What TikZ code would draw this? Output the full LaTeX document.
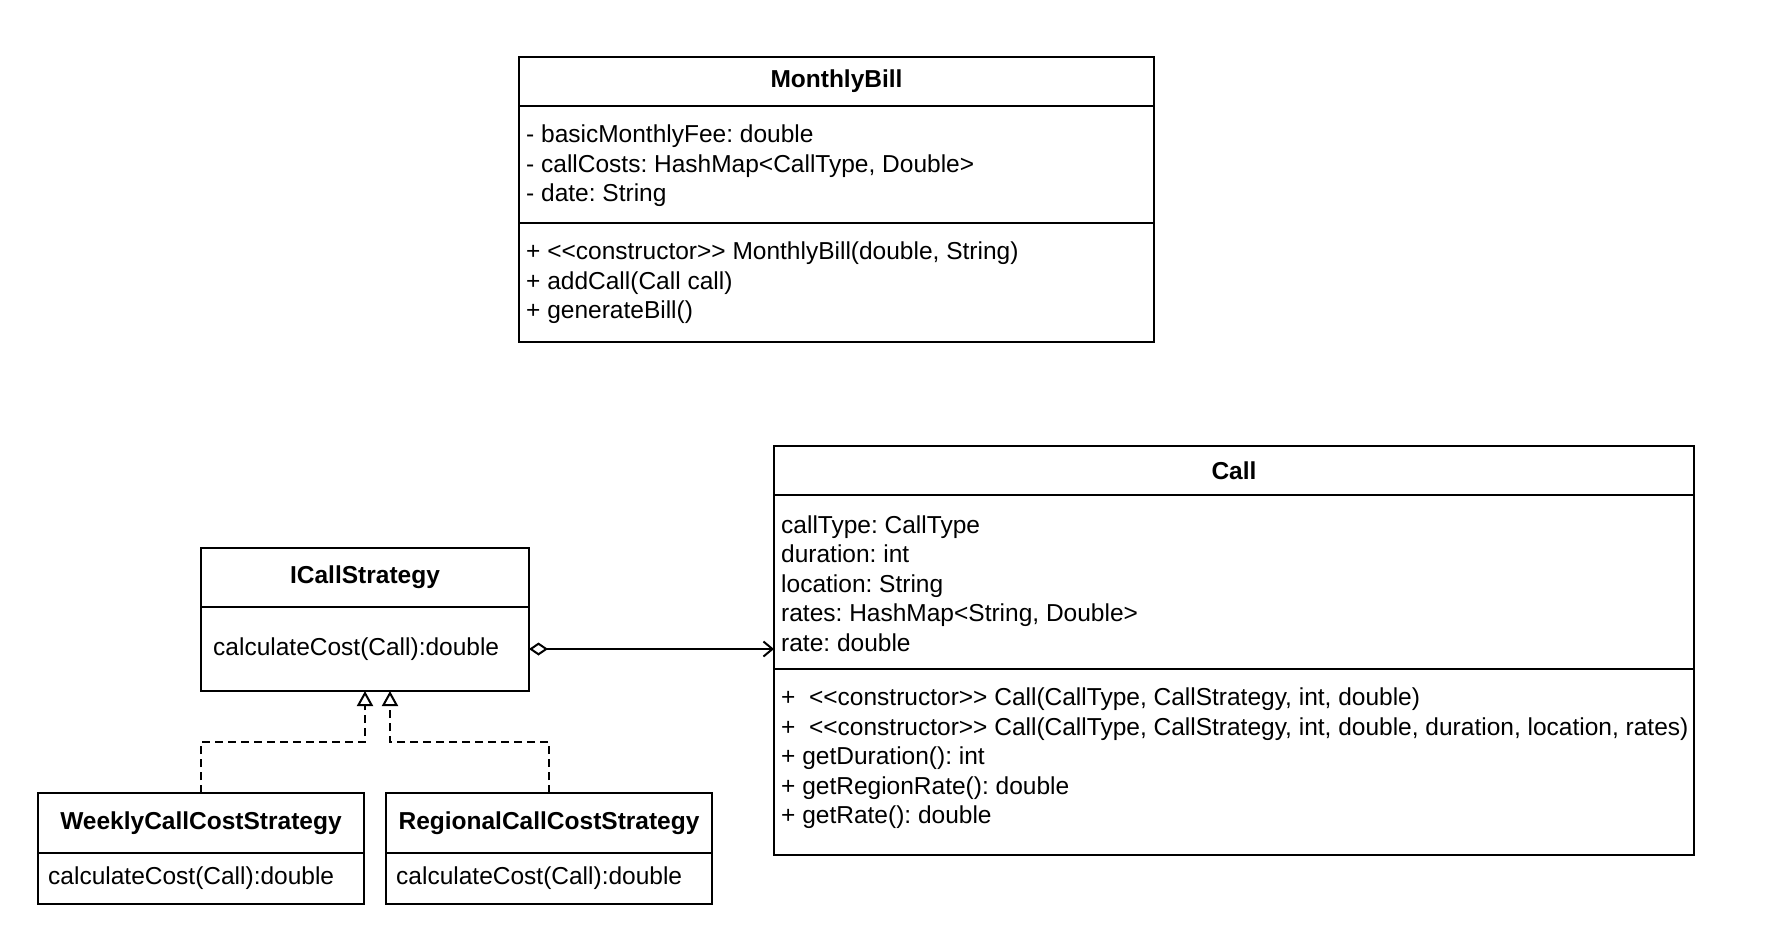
\documentclass[tikz,border=0pt]{standalone}
\usepackage{fontspec}
\setmainfont{Liberation Sans}[Ligatures=TeXOff]
\usetikzlibrary{arrows.meta}
\frenchspacing

\begin{document}
\begin{tikzpicture}[x=1pt,y=-1pt]
\tikzset{box/.style = {shape=rectangle,draw,line width=2pt,anchor=north west,inner sep=0pt,outer sep=0pt}}
\tikzset{head/.style = {box,font=\fontsize{24.5}{29}\selectfont\bfseries}}
\tikzset{member/.style = {align=left,inner xsep=7pt,inner ysep=0pt,font=\fontsize{24.5}{29.5}\selectfont}}
\tikzset{aggr/.style = {line width=2pt,{Diamond[open,length=19pt,width=13pt]}-{Straight Barb[length=9pt,width=15pt]}}}
\tikzset{realize/.style = {line width=2pt,dash pattern=on 8pt off 5pt,-{Triangle[open,length=15pt,width=16pt]}}}
\useasboundingbox[fill=white] (0,0) rectangle (1790,930);
% classes
\node[head,minimum width=635,minimum height=49] (billhead) at (519,57) {MonthlyBill};
\node[box,minimum width=635,minimum height=117] (billattr) at (billhead.south west) {};
\node[box,minimum width=635,minimum height=119] (billops) at (billattr.south west) {};
\node[member,anchor=west] (billattrtxt) at ([yshift=-1.5pt]billattr.west) {- basicMonthlyFee: double\\- callCosts: HashMap<CallType, Double>\\- date: String};
\node[member,anchor=north west] (billopstxt) at ([yshift=-19pt]billops.north west) {+ <<constructor>> MonthlyBill(double, String)\\+ addCall(Call call)\\+ generateBill()};

\node[head,minimum width=920,minimum height=49] (callhead) at (774,446) {Call};
\node[box,minimum width=920,minimum height=174] (callattr) at (callhead.south west) {};
\node[box,minimum width=920,minimum height=186] (callops) at (callattr.south west) {};
\node[member,anchor=west] (callattrtxt) at ([yshift=-1.5pt]callattr.west) {callType: CallType\\duration: int\\location: String\\rates: HashMap<String, Double>\\rate: double};
\node[member,anchor=north west] (callopstxt) at ([yshift=-19pt]callops.north west) {+~ <<constructor>> Call(CallType, CallStrategy, int, double)\\+~ <<constructor>> Call(CallType, CallStrategy, int, double, duration, location, rates)\\+ getDuration(): int\\+ getRegionRate(): double\\+ getRate(): double};

\node[head,minimum width=328,minimum height=59] (strathead) at (201,548) {ICallStrategy};
\node[box,minimum width=328,minimum height=84] (stratbody) at (strathead.south west) {};
\node[member,anchor=west] (strattxt) at ([xshift=5pt]stratbody.west) {calculateCost(Call):double};

\node[head,minimum width=326,minimum height=60] (weekhead) at (38,793) {WeeklyCallCostStrategy};
\node[box,minimum width=326,minimum height=51] (weekbody) at (weekhead.south west) {};
\node[member,anchor=west] (weektxt) at ([xshift=3pt]weekbody.west) {calculateCost(Call):double};

\node[head,minimum width=326,minimum height=60] (reghead) at (386,793) {RegionalCallCostStrategy};
\node[box,minimum width=326,minimum height=51] (regbody) at (reghead.south west) {};
\node[member,anchor=west] (regtxt) at ([xshift=3pt]regbody.west) {calculateCost(Call):double};

% edges
\draw[aggr] (stratbody.east) -- (stratbody.east -| callattr.west);
\draw[realize] (weekhead.north) |- ([yshift=-51pt]stratbody.south) -- (stratbody.south);
\draw[realize] (reghead.north) |- ([xshift=25pt,yshift=-51pt]stratbody.south) -- ([xshift=25pt]stratbody.south);
\end{tikzpicture}
\end{document}
